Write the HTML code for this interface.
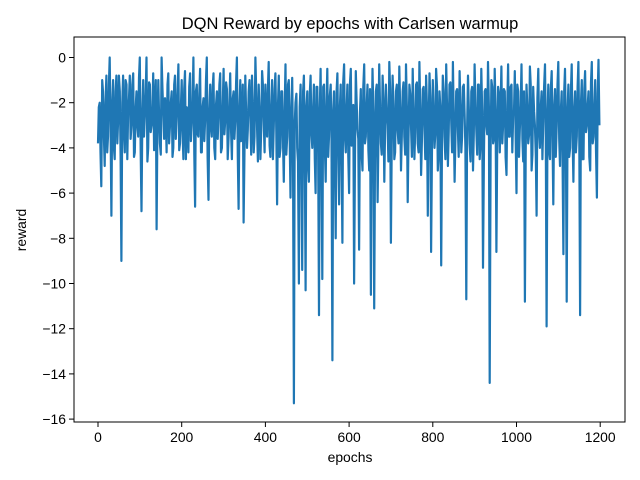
<!DOCTYPE html>
<html><head><meta charset="utf-8"><style>
body{margin:0;background:#fff;}
svg{display:block;font-family:"Liberation Sans",sans-serif;}
</style></head><body>
<svg id="chart" width="640" height="480" viewBox="0 0 640 480">
<rect width="640" height="480" fill="#fff"/>
<text x="350" y="29" font-size="16.5" text-anchor="middle">DQN Reward by epochs with Carlsen warmup</text>
<g id="xticks"></g><g id="yticks"></g>
<path id="line" fill="none" stroke="#1f77b4" stroke-width="2.2" stroke-linejoin="round"/>
<rect x="74" y="37" width="551" height="385" fill="none" stroke="#000" stroke-width="1"/>
<text x="350" y="462" font-size="13.9" text-anchor="middle">epochs</text>
<text transform="translate(26,230) rotate(-90)" font-size="13.9" text-anchor="middle">reward</text>
</svg>
<script>
const epochStep = 4;
// rewards at epochs 0,4,8,...
const rewards = [
-3.8,-2,-5.7,-1.5,-4.8,-0.8,-3.5,0,-7,-1,-4.5,-0.8,-2.8,-1.5,-9,-0.8,-4.2,-1.2,-2.5,-0.8,
-3,-0.7,-4.2,-1.5,-3.5,0,-6.8,-1,-2.5,0,-4,-1.2,-3,-0.7,-2,-7.6,-1,-3.8,0,-2.5,
-1.8,-4.2,-0.7,-3,-1.5,-4,-0.8,-2.6,-0.3,-3.8,-1,-4.5,-0.6,-2.2,-4.2,-0.7,-3,0,-6.6,-1.2,
-3.5,-0.5,-4.2,-1.8,-2.8,0,-6.3,-1.2,-3.5,-0.7,-4.5,-1.5,-2.6,-0.7,-4,-0.5,-2.8,-1.4,-3.5,-0.7,
-4.5,-1.5,-2.8,0,-6.7,-1,-3.2,-7.3,-0.8,-4,-1.5,-2.5,-0.8,-4.2,0,-3,-1.2,-4.5,-0.6,-2.8,
-1.2,-3.5,-0.2,-4.4,-1,-3,-0.7,-6.5,-0.8,-4,-1.5,-5.5,-0.3,-3.5,-1,-6.2,-0.9,-15.3,-2,-4,
-10,-1.2,-9.4,-0.8,-10.3,-1.5,-5.5,-0.8,-4,-1.2,-6,-1.3,-11.4,-0.5,-9.8,-1.2,-5.5,-0.5,-3.5,-1.2,
-13.4,-1.5,-8,-0.7,-6.5,-1.2,-8.2,-0.3,-4.2,-1.2,-6,-0.5,-3.8,-10,-0.6,-3.2,-8.5,-1.4,-5,-0.3,
-3.5,-1.2,-5,-10.5,-0.5,-11.1,-1.5,-6.4,-0.3,-3.8,-0.8,-5.5,-1.2,-3,-0.2,-8.2,-0.8,-4.5,-1.5,-3.2,
-0.4,-5,-1.5,-3.5,-0.3,-6.4,-1.2,-3,-0.5,-4.5,-1.2,-3.8,-0.2,-5.2,-1.4,-3,-0.8,-7,-0.7,-8.6,
-1,-4,-0.5,-5,-1.5,-9.2,-0.8,-3.5,-0.3,-4.8,-1.2,-2.8,-0.2,-5.5,-1.5,-3.2,-0.6,-4.2,-1.3,-2.5,
-10.7,-0.8,-3.8,-1.5,-5,-0.3,-3.2,-1.2,-4.5,-0.5,-9.3,-1.5,-3,-0.2,-14.4,-1,-3.8,-0.5,-8.6,-1.3,
-4.2,-0.4,-3,-1.5,-5.2,-0.3,-3.5,-1.2,-2.5,-0.6,-6,-1.5,-3.2,-0.3,-4.6,-10.8,-1.2,-3.8,-0.4,-5,
-1.3,-3,-7,-0.5,-4,-1.5,-2.8,-0.3,-11.9,-1.2,-4.5,-0.6,-6.5,-1.4,-3,-0.2,-4.8,-1.5,-8.7,-0.5,
-10.8,-1.2,-4,-0.3,-5.5,-1.5,-3.5,-0.2,-11.4,-1,-4.5,-0.6,-3,-1.5,-5,-0.2,-3.5,-1,-6.2,-0.1
];
// rewards at epochs 2,6,10,...
const rewardsMid = [
-2.2,-4.2,-1,-3.5,-2,-4.2,-1.2,-3.2,-2.2,-4,-1.5,-3.8,-0.8,-4.4,-2,-3.2,-1,-4.5,-1.8,-3.6,
-1.2,-4.4,-2.2,-3,-0.9,-4.2,-2.4,-3.5,-1.6,-4.6,-1.1,-3.3,-2.4,-4.1,-1,-3.1,-2.6,-4.3,-1.3,-3.6,
-2.6,-1.2,-3.8,-2,-4.4,-1.2,-3.6,-1.6,-4.1,-2.2,-3.2,-1.4,-4.5,-2.6,-1.3,-3.7,-2.1,-4.3,-1.5,-3.4,
-1.6,-4.2,-2.2,-3.7,-1,-4.4,-2.4,-3.1,-1.3,-4,-2.1,-3.6,-1.2,-4.2,-2.2,-3.4,-1.1,-4.5,-2,-3.3,
-1.8,-3.6,-1.1,-4.4,-2.2,-3.7,-1.2,-4.1,-2.4,-3.2,-1,-4.3,-2.1,-3.5,-1.5,-4.6,-2.4,-3.2,-1.2,-4.2,
-2.6,-1.4,-3.9,-2.2,-4.5,-1.4,-3.3,-2.1,-4.4,-1.5,-3.7,-2.2,-4.3,-1.2,-3.6,-2.4,-4.1,-3,-1.6,-4.6,
-2.2,-4.2,-1.5,-3.6,-2.2,-4.8,-1.6,-3.3,-2.4,-4.5,-1.3,-3.6,-2.3,-4.3,-1.3,-3.9,-2.1,-4.4,-1.7,-3.7,
-2.4,-4.6,-1.6,-3.9,-2.2,-4.5,-1.1,-3.5,-2.3,-4.4,-1.2,-3.9,-2.1,-4.3,-1.9,-3.6,-2.4,-4.3,-1.3,-3.8,
-2.1,-4.1,-1.4,-3.6,-2.4,-4.5,-1.2,-3.7,-2.3,-4.3,-1.8,-3.2,-2.4,-4.6,-1.4,-3.5,-2.1,-4.2,-1.2,-3.8,
-2.3,-3.5,-1.1,-4.3,-2.3,-3.6,-1.6,-4.4,-2.4,-3.3,-1.1,-4.2,-2.1,-3.7,-1.3,-4.5,-2.1,-3.2,-1.8,-4,
-2.4,-3.4,-1.3,-4.3,-2.2,-3.7,-1.5,-4.5,-2.1,-3.3,-1.1,-4.2,-2.6,-3.6,-1.4,-4.4,-2.1,-3.5,-1.2,-4,
-3.2,-2.2,-4.6,-1.3,-3.4,-2.2,-4.3,-1.2,-3.8,-2.4,-4.5,-1.4,-3.4,-2.2,-4.2,-1.3,-3.6,-2.4,-4,-1.6,
-2.2,-3.8,-1.4,-4.4,-2.1,-3.5,-1.3,-4.2,-2.4,-3.6,-1.2,-4.4,-2.1,-3.6,-1.5,-4.2,-2.3,-3.4,-1.2,-4.3,
-2.4,-4.3,-1.8,-3.3,-2.2,-4.5,-1.3,-3.6,-2.6,-4.1,-1.4,-3.5,-2.2,-4.4,-1.2,-3.6,-2.3,-4.2,-1.5,-3.7,
-2.3,-4.4,-1.5,-3.5,-2.3,-4.2,-1.3,-3.7,-2.1,-4.5,-1.4,-3.3,-2.2,-4.4,-1.1,-3.8,-2.3,-4.1,-1.6,-3
];
const xTickValues = [0,200,400,600,800,1000,1200];
const yTickValues = [0,-2,-4,-6,-8,-10,-12,-14,-16];

const NS = "http://www.w3.org/2000/svg";
function xs(v){ return 98 + v*0.4185; }
function ys(v){ return 57.5 - v*22.6; }

let d = "";
rewards.forEach((r,i)=>{
  d += (i?"L":"M") + xs(i*epochStep).toFixed(1) + "," + ys(r).toFixed(1);
  if (i < rewardsMid.length) d += "L" + xs(i*epochStep + epochStep/2).toFixed(1) + "," + ys(rewardsMid[i]).toFixed(1);
});
document.getElementById("line").setAttribute("d", d);

const xg = document.getElementById("xticks");
xTickValues.forEach(v=>{
  const l = document.createElementNS(NS,"line");
  
  
  l.setAttribute("x1",xs(v)); l.setAttribute("x2",xs(v));
  l.setAttribute("y1",422); l.setAttribute("y2",427);
  l.setAttribute("stroke","#000");
  xg.appendChild(l);
  const t = document.createElementNS(NS,"text");
  
  
  t.setAttribute("x",xs(v)); t.setAttribute("y",442);
  t.setAttribute("font-size","13.9"); t.setAttribute("text-anchor","middle");
  t.textContent = v;
  xg.appendChild(t);
});
const yg = document.getElementById("yticks");
yTickValues.forEach(v=>{
  const l = document.createElementNS(NS,"line");
  
  
  l.setAttribute("x1",69); l.setAttribute("x2",74);
  l.setAttribute("y1",ys(v)); l.setAttribute("y2",ys(v));
  l.setAttribute("stroke","#000");
  yg.appendChild(l);
  const t = document.createElementNS(NS,"text");
  
  
  t.setAttribute("x",66); t.setAttribute("y",ys(v)+5);
  t.setAttribute("font-size","13.9"); t.setAttribute("text-anchor","end");
  t.textContent = v===0 ? "0" : "\u2212" + Math.abs(v);
  yg.appendChild(t);
});
</script>
</body></html>
